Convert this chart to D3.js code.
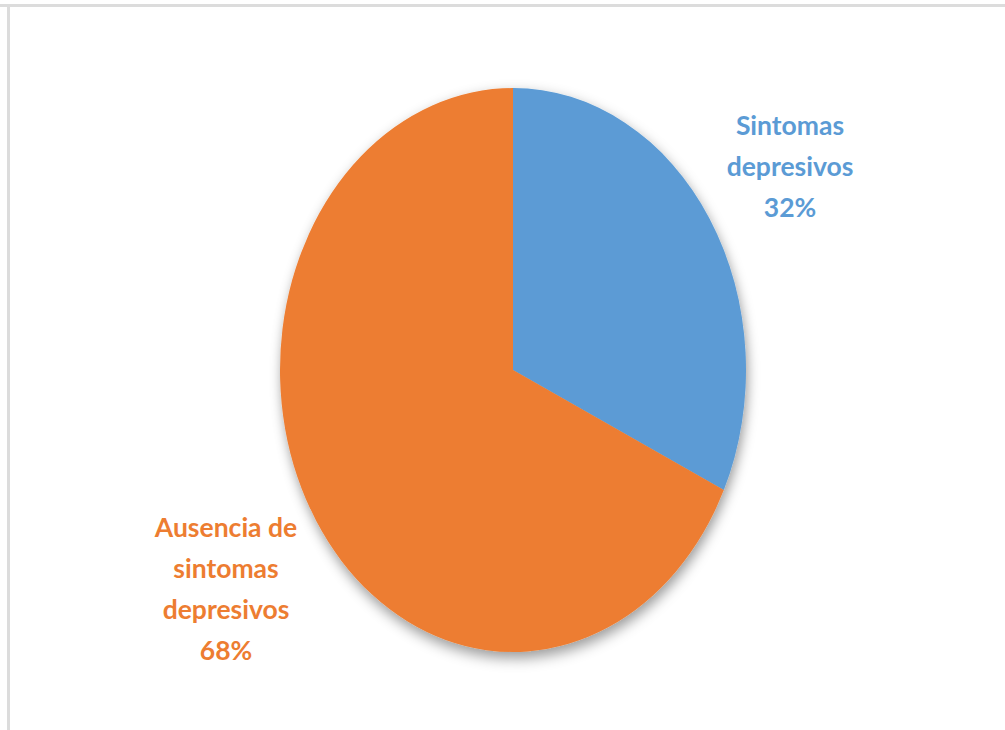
<!DOCTYPE html>
<html>
<head>
<meta charset="utf-8">
<script src="https://cdn.jsdelivr.net/npm/d3@7"></script>
<style>
  html, body { margin: 0; padding: 0; background: #fff; }
  svg { display: block; }
</style>
</head>
<body>
<script>
// Distribución de síntomas depresivos
const categories = ["Sintomas depresivos", "Ausencia de sintomas depresivos"];
const values = [32, 68];
const labelLines = [
  ["Sintomas", "depresivos", "32%"],
  ["Ausencia de", "sintomas", "depresivos", "68%"]
];
const colors = ["#5B9BD5", "#ED7D31"];

const W = 1005, H = 730;
const cx = 513, cy = 370, rx = 233, ry = 282;

const svg = d3.select("body").append("svg")
  .attr("width", W).attr("height", H);

// frame edges
svg.append("rect").attr("x", 0).attr("y", 4).attr("width", W).attr("height", 3).attr("fill", "#dcdcdc");
svg.append("rect").attr("x", 7).attr("y", 4).attr("width", 3).attr("height", H - 4).attr("fill", "#dcdcdc");

const defs = svg.append("defs");
const f = defs.append("filter").attr("id", "shadow")
  .attr("x", "-20%").attr("y", "-20%").attr("width", "140%").attr("height", "140%");
f.append("feDropShadow")
  .attr("dx", 2).attr("dy", 6).attr("stdDeviation", 7)
  .attr("flood-color", "#000").attr("flood-opacity", 0.4);

const pie = d3.pie().sort(null).value(d => d)(values);
const arc = d3.arc().innerRadius(0).outerRadius(ry);

const g = svg.append("g")
  .attr("filter", "url(#shadow)")
  .attr("transform", `translate(${cx},${cy}) scale(${rx / ry},1)`);

g.selectAll("path").data(pie).join("path")
  .attr("d", arc)
  .attr("fill", (d, i) => colors[i]);

// data labels
const labelPos = [
  { x: 790, y: 135 },
  { x: 226, y: 537 }
];
const lineGap = 41;

labelLines.forEach((lines, i) => {
  const t = svg.append("text")
    .attr("text-anchor", "middle")
    .attr("font-family", "Lato, 'Open Sans', sans-serif")
    .attr("font-weight", "bold")
    .attr("font-size", 26.5)
    .attr("fill", colors[i]);
  lines.forEach((s, k) => {
    t.append("tspan")
      .attr("x", labelPos[i].x)
      .attr("y", labelPos[i].y + k * lineGap)
      .text(s);
  });
});
</script>
</body>
</html>
